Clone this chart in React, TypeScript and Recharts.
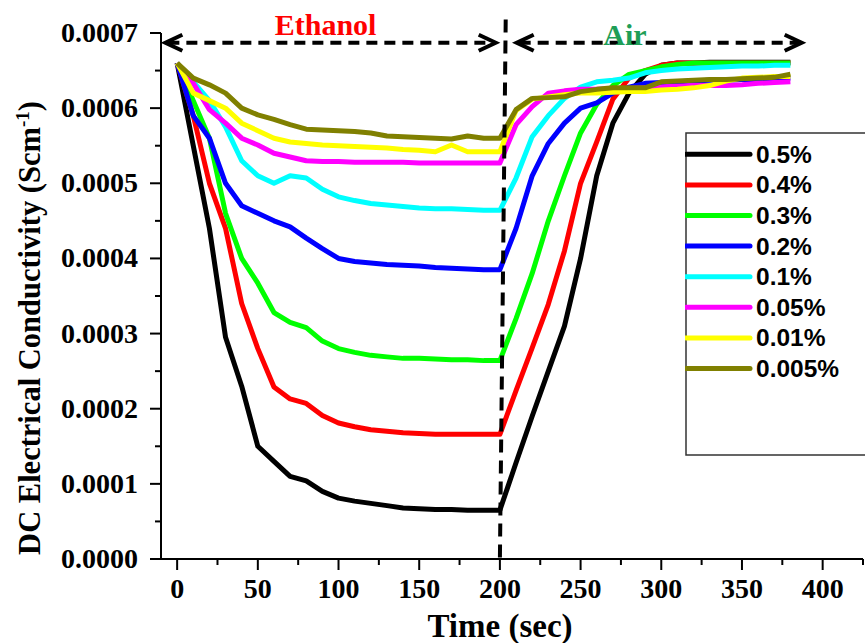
import { LineChart, Line, XAxis, YAxis, ReferenceLine, ReferenceDot, Legend } from "recharts";

const SERIF = "'Liberation Serif', 'Times New Roman', serif";
const SANS = "'Liberation Sans', Arial, sans-serif";

// time in seconds
const times = [
  0, 10, 20, 30, 40, 50, 60, 70, 80, 90, 100, 110, 120, 130, 140, 150, 160, 170, 180, 190, 200,
  210, 220, 230, 240, 250, 260, 270, 280, 290, 300, 310, 320, 330, 340, 350, 360, 370, 380,
];

// conductivity (S/cm) for each ethanol concentration
const c05 = [
  0.00066, 0.00055, 0.00044, 0.000295, 0.00023, 0.00015, 0.00013, 0.00011, 0.000104, 0.00009, 0.000081,
  0.000077, 0.000074, 0.000071, 0.000068, 0.000067, 0.000066, 0.000066, 0.000065, 0.000065, 0.000065,
  0.000128, 0.00019, 0.00025, 0.00031, 0.0004, 0.00051, 0.00058, 0.00062, 0.000645, 0.000657,
  0.00066, 0.00066, 0.000661, 0.000661, 0.000661, 0.000661, 0.000661, 0.000661,
];
const c04 = [
  0.00066, 0.00059, 0.0005, 0.00044, 0.00034, 0.00028, 0.000229, 0.000213, 0.000207, 0.000191, 0.000181,
  0.000176, 0.000172, 0.00017, 0.000168, 0.000167, 0.000166, 0.000166, 0.000166, 0.000166, 0.000166,
  0.000224, 0.000281, 0.000339, 0.00041, 0.0005, 0.000555, 0.000612, 0.00064, 0.00065, 0.000657,
  0.00066, 0.00066, 0.00066, 0.00066, 0.00066, 0.00066, 0.00066, 0.00066,
];
const c03 = [
  0.00066, 0.00061, 0.00056, 0.00046, 0.0004, 0.000367, 0.000328, 0.000315, 0.000308, 0.00029, 0.00028,
  0.000275, 0.000271, 0.000269, 0.000267, 0.000267, 0.000266, 0.000265, 0.000265, 0.000264, 0.000264,
  0.00032, 0.00038, 0.00045, 0.00051, 0.000567, 0.000605, 0.00063, 0.000645, 0.00065, 0.000655,
  0.000658, 0.00066, 0.00066, 0.00066, 0.00066, 0.00066, 0.00066, 0.00066,
];
const c02 = [
  0.00066, 0.00059, 0.00056, 0.0005, 0.00047, 0.00046, 0.00045, 0.000442, 0.000427, 0.000413, 0.0004,
  0.000396, 0.000394, 0.000392, 0.000391, 0.00039, 0.000388, 0.000387, 0.000386, 0.000385, 0.000385,
  0.00044, 0.00051, 0.000553, 0.00058, 0.0006, 0.000607, 0.00062, 0.000628, 0.000633, 0.000634,
  0.000635, 0.000636, 0.000637, 0.000637, 0.000638, 0.000638, 0.000639, 0.00064,
];
const c01 = [
  0.00066, 0.000635, 0.00061, 0.000575, 0.00053, 0.00051, 0.0005, 0.00051, 0.000507, 0.000492, 0.000482,
  0.000477, 0.000473, 0.000471, 0.000469, 0.000467, 0.000466, 0.000466, 0.000465, 0.000464, 0.000464,
  0.000507, 0.000562, 0.00059, 0.000613, 0.000628, 0.000635, 0.000637, 0.00064, 0.000647, 0.00065,
  0.000652, 0.000653, 0.000654, 0.000655, 0.000656, 0.000656, 0.000657, 0.000657,
];
const c005 = [
  0.00066, 0.000633, 0.000598, 0.00058, 0.00056, 0.000551, 0.00054, 0.000535, 0.00053, 0.000529, 0.000529,
  0.000528, 0.000528, 0.000528, 0.000528, 0.000527, 0.000527, 0.000527, 0.000527, 0.000527, 0.000527,
  0.000578, 0.000602, 0.00062, 0.000623, 0.000625, 0.000625, 0.000626, 0.000626, 0.000627, 0.000628,
  0.000629, 0.00063, 0.00063, 0.00063, 0.000631, 0.000633, 0.000634, 0.000635,
];
const c001 = [
  0.00066, 0.00062, 0.00061, 0.0006, 0.00058, 0.00057, 0.00056, 0.000555, 0.000553, 0.000551, 0.00055,
  0.000549, 0.000548, 0.000547, 0.000545, 0.000544, 0.000542, 0.000551, 0.000542, 0.000542, 0.000542,
  0.000597, 0.000612, 0.000615, 0.000618, 0.00062, 0.00062, 0.000621, 0.000622, 0.000622, 0.000624,
  0.000625, 0.000627, 0.00063, 0.000636, 0.00064, 0.000641, 0.000642, 0.000642,
];
const c0005 = [
  0.00066, 0.00064, 0.000631, 0.00062, 0.0006, 0.000591, 0.000585, 0.000578, 0.000572, 0.000571, 0.00057,
  0.000569, 0.000567, 0.000563, 0.000562, 0.000561, 0.00056, 0.000559, 0.000563, 0.00056, 0.00056,
  0.000598, 0.000613, 0.000614, 0.000615, 0.000622, 0.000625, 0.000627, 0.000627, 0.000627, 0.000635,
  0.000636, 0.000637, 0.000638, 0.000638, 0.000639, 0.00064, 0.000641, 0.000645,
];

const seriesList = [
  { key: "c05", name: "0.5%", color: "#000000", values: c05 },
  { key: "c04", name: "0.4%", color: "#ff0000", values: c04 },
  { key: "c03", name: "0.3%", color: "#00ff00", values: c03 },
  { key: "c02", name: "0.2%", color: "#0000ff", values: c02 },
  { key: "c01", name: "0.1%", color: "#00ffff", values: c01 },
  { key: "c005", name: "0.05%", color: "#ff00ff", values: c005 },
  { key: "c001", name: "0.01%", color: "#ffff00", values: c001 },
  { key: "c0005", name: "0.005%", color: "#808000", values: c0005 },
];

const xTicks = [0, 25, 50, 75, 100, 125, 150, 175, 200, 225, 250, 275, 300, 325, 350, 375, 400, 425];
const yTicks = [
  0, 0.00005, 0.0001, 0.00015, 0.0002, 0.00025, 0.0003, 0.00035, 0.0004, 0.00045, 0.0005, 0.00055,
  0.0006, 0.00065, 0.0007,
];

const data = times.map((t, i) => {
  const row: any = { t };
  seriesList.forEach((s) => {
    row[s.key] = s.values[i];
  });
  return row;
});

const XTick = (props: any) => {
  const { x, y, payload } = props;
  const v = payload.value;
  const major = v % 50 === 0;
  return (
    <g>
      <line x1={x} y1={y} x2={x} y2={y + (major ? 11 : 6)} stroke="#000" strokeWidth={2} />
      {major && (
        <text x={x} y={y + 39} textAnchor="middle" fontFamily={SERIF} fontWeight="bold" fontSize={28} fill="#000">
          {v}
        </text>
      )}
    </g>
  );
};

const YTick = (props: any) => {
  const { x, y, payload } = props;
  const v = payload.value;
  const major = Math.round(v * 20000) % 2 === 0;
  return (
    <g>
      <line x1={x} y1={y} x2={x - (major ? 11 : 6)} y2={y} stroke="#000" strokeWidth={2} />
      {major && (
        <text x={x - 23} y={y + 9} textAnchor="end" fontFamily={SERIF} fontWeight="bold" fontSize={28} fill="#000">
          {v.toFixed(4)}
        </text>
      )}
    </g>
  );
};

const XTitle = (props: any) => {
  const vb = props.viewBox ?? { x: 161, y: 559, width: 702, height: 84 };
  return (
    <text
      x={vb.x + vb.width / 2 - 12}
      y={vb.y + 78}
      textAnchor="middle"
      fontFamily={SERIF}
      fontWeight="bold"
      fontSize={33}
      fill="#000"
    >
      Time (sec)
    </text>
  );
};

const YTitle = (props: any) => {
  const vb = props.viewBox ?? { x: 0, y: 33, width: 161, height: 526 };
  const cx = vb.x + 40;
  const cy = vb.y + vb.height / 2 + 32;
  return (
    <text
      transform={`translate(${cx},${cy}) rotate(-90)`}
      textAnchor="middle"
      fontFamily={SERIF}
      fontWeight="bold"
      fontSize={30.5}
      fill="#000"
    >
      DC Electrical Conductivity (Scm
      <tspan dy={-11} fontSize={19}>
        -1
      </tspan>
      <tspan dy={11}>)</tspan>
    </text>
  );
};

// dashed line with open arrow heads on both ends
const DoubleArrow = (props: any) => {
  const { x1, y1, x2, y2 } = props;
  const h = 17;
  const w = 8;
  return (
    <g>
      <line x1={x1 + 3} y1={y1} x2={x2 - 3} y2={y2} stroke="#000" strokeWidth={4} strokeDasharray="11 7" />
      <polyline
        points={`${x1 + h},${y1 - w} ${x1},${y1} ${x1 + h},${y1 + w}`}
        fill="none"
        stroke="#000"
        strokeWidth={4}
      />
      <polyline
        points={`${x2 - h},${y2 - w} ${x2},${y2} ${x2 - h},${y2 + w}`}
        fill="none"
        stroke="#000"
        strokeWidth={4}
      />
    </g>
  );
};

const textShape = (label: string, color: string, size: number) => (p: any) => (
  <text x={p.cx} y={p.cy} textAnchor="middle" fontFamily={SERIF} fontWeight="bold" fontSize={size} fill={color}>
    {label}
  </text>
);

const LegendBox = () => (
  <svg width={180} height={324} style={{ display: "block" }}>
    <polyline points="180,1 1,1 1,323 180,323" fill="none" stroke="#333" strokeWidth={1.5} />
    {seriesList.map((s, i) => {
      const cy = 22.3 + i * 30.6;
      return (
        <g key={s.key}>
          <line x1={1} x2={65} y1={cy} y2={cy} stroke={s.color} strokeWidth={5} strokeLinecap="round" />
          <text x={71} y={cy + 8.5} fontFamily={SANS} fontWeight="bold" fontSize={24.5} fill="#000">
            {s.name}
          </text>
        </g>
      );
    })}
  </svg>
);

export default function App() {
  return (
    <div style={{ position: "absolute", left: 0, top: 0, width: 865, height: 643, background: "#fff" }}>
      <LineChart width={865} height={643} data={data} margin={{ top: 33, right: 2, left: 0, bottom: 0 }}>
        <XAxis
          type="number"
          dataKey="t"
          domain={[-10, 425]}
          ticks={xTicks}
          interval={0}
          height={84}
          tickSize={0}
          tickMargin={0}
          tickLine={false}
          axisLine={{ stroke: "#000", strokeWidth: 2 }}
          tick={<XTick />}
          allowDataOverflow
          label={{ content: XTitle }}
        />
        <YAxis
          type="number"
          domain={[0, 0.0007]}
          ticks={yTicks}
          interval={0}
          width={161}
          tickSize={0}
          tickMargin={0}
          tickLine={false}
          axisLine={{ stroke: "#000", strokeWidth: 2 }}
          tick={<YTick />}
          allowDataOverflow
          label={{ content: YTitle }}
        />
        <Legend
          layout="vertical"
          align="center"
          verticalAlign="middle"
          wrapperStyle={{ left: 685, top: 132, width: 180, height: 324 }}
          content={() => <LegendBox />}
        />
        {seriesList.map((s) => (
          <Line
            key={s.key}
            type="linear"
            dataKey={s.key}
            name={s.name}
            stroke={s.color}
            strokeWidth={5}
            strokeLinejoin="round"
            dot={false}
            activeDot={false}
            isAnimationActive={false}
          />
        ))}
        <ReferenceLine
          segment={[
            { x: 203.6, y: 0.000718 },
            { x: 200, y: 0 },
          ]}
          stroke="#000"
          strokeWidth={4}
          strokeDasharray="13 8"
          ifOverflow="visible"
        />
        <ReferenceLine
          segment={[
            { x: -7.3, y: 0.000687 },
            { x: 197.4, y: 0.000687 },
          ]}
          ifOverflow="visible"
          shape={DoubleArrow}
        />
        <ReferenceLine
          segment={[
            { x: 210.4, y: 0.000687 },
            { x: 387, y: 0.000687 },
          ]}
          ifOverflow="visible"
          shape={DoubleArrow}
        />
        <ReferenceDot x={92} y={0.000698} ifOverflow="visible" shape={textShape("Ethanol", "#ff0000", 30)} />
        <ReferenceDot x={277.5} y={0.000684} ifOverflow="visible" shape={textShape("Air", "#1f9e57", 30)} />
      </LineChart>
    </div>
  );
}
